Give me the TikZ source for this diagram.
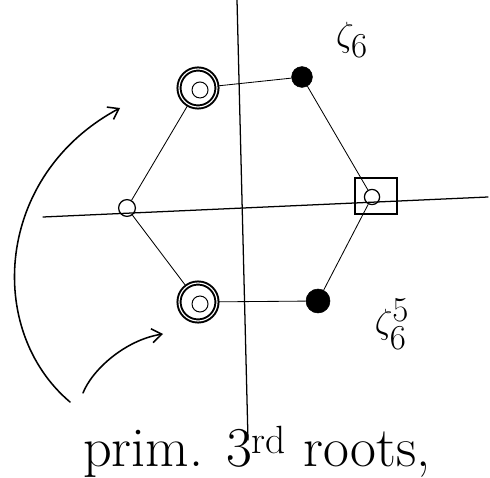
\documentclass[tikz,border=0pt]{standalone}
\usepackage{amsmath}
\usepackage{tikz}
\usetikzlibrary{arrows.meta,calc}
\tikzset{
  axisline/.style ={line width=0.9pt,line cap=round},
  hexedge/.style  ={line width=0.6pt},
  bigroot/.style  ={circle,draw,line width=1.4pt,double,double distance=0.8pt,minimum size=0.95cm,inner sep=0pt,
                    path picture={\draw[line width=0.7pt] ($(path picture bounding box.center)+(0.05cm,-0.05cm)$) circle[radius=0.2cm];}},
  dotroot/.style  ={circle,draw,fill=black,inner sep=0pt,minimum size=0.52cm},
  smallroot/.style={circle,draw,line width=0.9pt,inner sep=0pt,minimum size=0.38cm},
  boxmark/.style  ={draw,line width=1.1pt,minimum width=1.05cm,minimum height=0.9cm,inner sep=0pt},
  handarr/.style  ={line width=1.1pt,line cap=round,-{Straight Barb[length=7pt,width=10pt]}},
  zlab/.style     ={inner sep=1pt,font=\fontsize{36}{38}\selectfont},
}
\begin{document}
\begin{tikzpicture}[x=0.025cm,y=-0.025cm]
  \useasboundingbox (0,0) rectangle (490,477);
  % axes
  \coordinate (xleft) at (43,217);
  \coordinate (xright) at (488,197);
  \coordinate (ytop) at (237,0);
  \coordinate (ybot) at (248,440);
  \draw[axisline] (xleft) -- (xright);
  \draw[axisline] (ytop) -- (ybot);
  % sixth roots of unity
  \node[smallroot] (r0) at (372,197) {};
  \node[dotroot] (r1) at (302,77) {};
  \node[bigroot] (r2) at (198,88) {};
  \node[smallroot,minimum width=0.32cm,minimum height=0.42cm] (r3) at (127,208) {};
  \node[bigroot] (r4) at (198,302) {};
  \node[dotroot,minimum size=0.6cm] (r5) at (318,301) {};
  \node[boxmark] (box) at (376,196) {};
  \draw[hexedge] (r0) -- (r1);
  \draw[hexedge] (r1) -- (r2);
  \draw[hexedge] (r2) -- (r3);
  \draw[hexedge] (r3) -- (r4);
  \draw[hexedge] (r4) -- (r5);
  \draw[hexedge] (r5) -- (r0);
  \node[zlab] (z1) at (352,40) {$\zeta_6$};
  \node[zlab] (z5) at (392,324) {$\zeta^{5}_{6}$};
  % arrows to the primitive cube roots
  \coordinate (tailup) at (70,402);
  \coordinate (taildn) at (83,393);
  \draw[handarr] (tailup) .. controls (-15,330) and (-5,175) .. ($(r2)+(-78,20)$);
  \draw[handarr] (taildn) .. controls (92,370) and (125,340) .. ($(r4)+(-35,32)$);
  \node[anchor=base,font=\fontsize{40}{42}\selectfont] (cap) at (257,466) {prim. 3\textsuperscript{rd} roots,};
\end{tikzpicture}
\end{document}
